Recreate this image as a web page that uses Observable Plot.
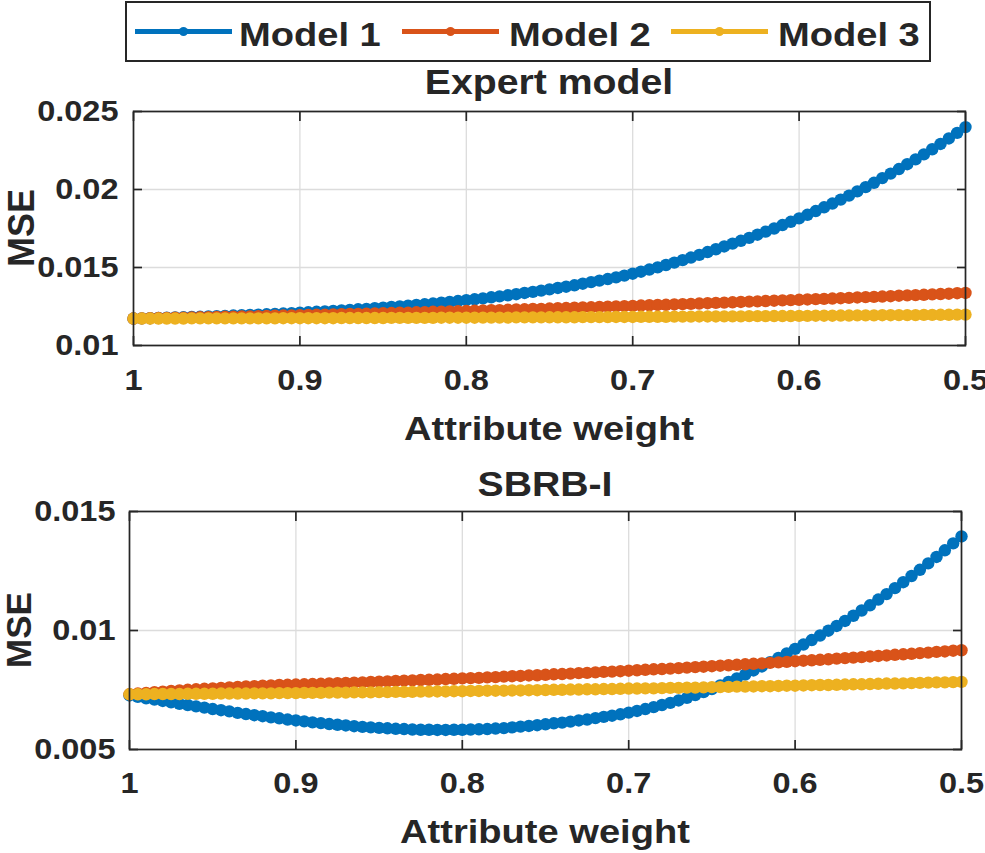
<!DOCTYPE html>
<html><head><meta charset="utf-8">
<script src="https://cdn.jsdelivr.net/npm/d3@7"></script>
<script src="https://cdn.jsdelivr.net/npm/@observablehq/plot@0.6"></script>
<style>
html,body{margin:0;padding:0;background:#fff;}
#fig{position:relative;width:985px;height:853px;overflow:hidden;font-family:"Liberation Sans",Arial,sans-serif;}
#fig > svg{position:absolute;left:0;}
</style></head><body><div id="fig"></div>
<script>
// ---------------- data ----------------
const weights = [1,0.995,0.99,0.985,0.98,0.975,0.97,0.965,0.96,0.955,
0.95,0.945,0.94,0.935,0.93,0.925,0.92,0.915,0.91,0.905,
0.9,0.895,0.89,0.885,0.88,0.875,0.87,0.865,0.86,0.855,
0.85,0.845,0.84,0.835,0.83,0.825,0.82,0.815,0.81,0.805,
0.8,0.795,0.79,0.785,0.78,0.775,0.77,0.765,0.76,0.755,
0.75,0.745,0.74,0.735,0.73,0.725,0.72,0.715,0.71,0.705,
0.7,0.695,0.69,0.685,0.68,0.675,0.67,0.665,0.66,0.655,
0.65,0.645,0.64,0.635,0.63,0.625,0.62,0.615,0.61,0.605,
0.6,0.595,0.59,0.585,0.58,0.575,0.57,0.565,0.56,0.555,
0.55,0.545,0.54,0.535,0.53,0.525,0.52,0.515,0.51,0.505,
0.5];
const models = ["Model 1", "Model 2", "Model 3"];
const colors = ["#0072BD", "#D95319", "#EDB120"];
const xTicks = [1, 0.9, 0.8, 0.7, 0.6, 0.5];
const xTickLabels = ["1", "0.9", "0.8", "0.7", "0.6", "0.5"];
const topYTicks = [0.01, 0.015, 0.02, 0.025];
const topYTickLabels = ["0.01", "0.015", "0.02", "0.025"];
const botYTicks = [0.005, 0.01, 0.015];
const botYTickLabels = ["0.005", "0.01", "0.015"];
const panelTitles = ["Expert model", "SBRB-I"];
const xLabel = "Attribute weight";
const yLabel = "MSE";

// Expert model
const topModel1 = [0.01173,0.01174,0.01175,0.01177,0.01178,0.01180,0.01181,0.01183,0.01184,0.01186,
0.01188,0.01190,0.01192,0.01194,0.01196,0.01198,0.01200,0.01202,0.01205,0.01207,
0.01210,0.01213,0.01216,0.01219,0.01222,0.01225,0.01228,0.01232,0.01235,0.01239,
0.01243,0.01247,0.01251,0.01255,0.01260,0.01264,0.01269,0.01274,0.01279,0.01285,
0.01291,0.01296,0.01302,0.01309,0.01315,0.01322,0.01329,0.01337,0.01344,0.01352,
0.01360,0.01369,0.01377,0.01386,0.01396,0.01406,0.01416,0.01426,0.01437,0.01448,
0.01460,0.01473,0.01487,0.01501,0.01516,0.01531,0.01547,0.01564,0.01581,0.01599,
0.01617,0.01635,0.01653,0.01671,0.01690,0.01710,0.01730,0.01750,0.01772,0.01793,
0.01815,0.01838,0.01862,0.01886,0.01910,0.01935,0.01961,0.01988,0.02015,0.02043,
0.02073,0.02102,0.02131,0.02162,0.02193,0.02225,0.02258,0.02292,0.02327,0.02363,
0.02400];
const topModel2 = [0.01173,0.01174,0.01175,0.01176,0.01177,0.01178,0.01179,0.01180,0.01181,0.01182,
0.01183,0.01184,0.01185,0.01186,0.01187,0.01188,0.01190,0.01191,0.01192,0.01193,
0.01194,0.01196,0.01197,0.01198,0.01199,0.01201,0.01202,0.01203,0.01204,0.01206,
0.01207,0.01208,0.01210,0.01211,0.01213,0.01214,0.01216,0.01217,0.01218,0.01220,
0.01221,0.01223,0.01224,0.01226,0.01227,0.01229,0.01231,0.01232,0.01234,0.01235,
0.01237,0.01239,0.01240,0.01242,0.01244,0.01245,0.01247,0.01249,0.01251,0.01252,
0.01254,0.01256,0.01258,0.01260,0.01261,0.01263,0.01265,0.01267,0.01269,0.01271,
0.01273,0.01275,0.01277,0.01279,0.01281,0.01283,0.01285,0.01287,0.01289,0.01291,
0.01293,0.01295,0.01297,0.01299,0.01301,0.01303,0.01305,0.01308,0.01310,0.01312,
0.01314,0.01316,0.01319,0.01321,0.01323,0.01325,0.01328,0.01330,0.01332,0.01335,
0.01337];
const topModel3 = [0.01173,0.01173,0.01173,0.01173,0.01173,0.01173,0.01173,0.01174,0.01174,0.01174,
0.01174,0.01174,0.01174,0.01174,0.01174,0.01174,0.01174,0.01174,0.01175,0.01175,
0.01175,0.01175,0.01175,0.01175,0.01175,0.01176,0.01176,0.01176,0.01176,0.01176,
0.01176,0.01177,0.01177,0.01177,0.01177,0.01177,0.01177,0.01178,0.01178,0.01178,
0.01178,0.01178,0.01179,0.01179,0.01179,0.01179,0.01180,0.01180,0.01180,0.01180,
0.01181,0.01181,0.01181,0.01181,0.01182,0.01182,0.01182,0.01182,0.01183,0.01183,
0.01183,0.01184,0.01184,0.01184,0.01184,0.01185,0.01185,0.01185,0.01186,0.01186,
0.01186,0.01187,0.01187,0.01187,0.01188,0.01188,0.01188,0.01189,0.01189,0.01189,
0.01190,0.01190,0.01191,0.01191,0.01191,0.01192,0.01192,0.01193,0.01193,0.01193,
0.01194,0.01194,0.01195,0.01195,0.01195,0.01196,0.01196,0.01197,0.01197,0.01198,
0.01198];

// SBRB-I
const botModel1 = [0.00727,0.00721,0.00715,0.00710,0.00704,0.00698,0.00692,0.00687,0.00681,0.00676,
0.00670,0.00665,0.00660,0.00654,0.00649,0.00644,0.00640,0.00635,0.00631,0.00626,
0.00622,0.00618,0.00614,0.00611,0.00607,0.00604,0.00601,0.00598,0.00595,0.00593,
0.00591,0.00589,0.00587,0.00586,0.00584,0.00583,0.00583,0.00582,0.00582,0.00583,
0.00583,0.00584,0.00585,0.00586,0.00588,0.00590,0.00593,0.00596,0.00599,0.00602,
0.00606,0.00610,0.00613,0.00617,0.00622,0.00626,0.00632,0.00637,0.00642,0.00648,
0.00655,0.00662,0.00670,0.00678,0.00687,0.00696,0.00706,0.00717,0.00729,0.00741,
0.00754,0.00769,0.00784,0.00799,0.00815,0.00832,0.00849,0.00867,0.00885,0.00904,
0.00923,0.00941,0.00960,0.00979,0.00999,0.01019,0.01040,0.01062,0.01084,0.01106,
0.01130,0.01153,0.01178,0.01203,0.01229,0.01255,0.01282,0.01309,0.01337,0.01366,
0.01395];
const botModel2 = [0.00732,0.00735,0.00738,0.00741,0.00743,0.00746,0.00748,0.00751,0.00753,0.00755,
0.00757,0.00759,0.00761,0.00763,0.00765,0.00766,0.00768,0.00769,0.00771,0.00772,
0.00773,0.00774,0.00775,0.00776,0.00778,0.00779,0.00780,0.00781,0.00782,0.00784,
0.00785,0.00786,0.00788,0.00789,0.00790,0.00792,0.00793,0.00794,0.00796,0.00797,
0.00799,0.00800,0.00801,0.00803,0.00804,0.00806,0.00808,0.00809,0.00811,0.00812,
0.00814,0.00816,0.00817,0.00819,0.00821,0.00822,0.00824,0.00826,0.00827,0.00829,
0.00831,0.00833,0.00835,0.00837,0.00838,0.00840,0.00842,0.00844,0.00846,0.00848,
0.00850,0.00852,0.00854,0.00856,0.00858,0.00860,0.00862,0.00864,0.00866,0.00868,
0.00871,0.00873,0.00875,0.00877,0.00879,0.00882,0.00884,0.00886,0.00888,0.00891,
0.00893,0.00895,0.00898,0.00900,0.00902,0.00905,0.00907,0.00910,0.00912,0.00915,
0.00917];
const botModel3 = [0.00732,0.00732,0.00732,0.00733,0.00733,0.00733,0.00733,0.00734,0.00734,0.00734,
0.00734,0.00735,0.00735,0.00735,0.00735,0.00736,0.00736,0.00736,0.00737,0.00737,
0.00737,0.00738,0.00738,0.00738,0.00739,0.00739,0.00739,0.00740,0.00740,0.00740,
0.00741,0.00741,0.00742,0.00742,0.00742,0.00743,0.00743,0.00744,0.00744,0.00745,
0.00745,0.00746,0.00746,0.00747,0.00747,0.00747,0.00748,0.00748,0.00749,0.00749,
0.00750,0.00751,0.00751,0.00752,0.00752,0.00753,0.00753,0.00754,0.00754,0.00755,
0.00756,0.00756,0.00757,0.00757,0.00758,0.00759,0.00759,0.00760,0.00760,0.00761,
0.00762,0.00762,0.00763,0.00764,0.00764,0.00765,0.00766,0.00766,0.00767,0.00768,
0.00768,0.00769,0.00770,0.00771,0.00771,0.00772,0.00773,0.00774,0.00774,0.00775,
0.00776,0.00777,0.00777,0.00778,0.00779,0.00780,0.00781,0.00782,0.00782,0.00783,
0.00784];

// ---------------- drawing ----------------
const FONT = '"Liberation Sans", Arial, sans-serif';
const INK = "#262626";
const STRETCH = 1.12;
const fig = document.getElementById("fig");

function toRows(seriesList) {
  return seriesList.flatMap((vals, i) => vals.map((v, j) => ({w: weights[j], mse: v, model: models[i]})));
}

function stretchText(root) {
  root.querySelectorAll("text").forEach(t => {
    if (t.classList.contains("nostretch")) return;
    const L = t.getComputedTextLength();
    if (L > 0) {
      t.setAttribute("textLength", (L * STRETCH).toFixed(2));
      t.setAttribute("lengthAdjust", "spacingAndGlyphs");
    }
  });
}

function panel(cfg) {
  const rows = toRows(cfg.series);
  const fmtX = d => xTickLabels[xTicks.indexOf(d)];
  const fmtY = d => cfg.yLabels[cfg.yTicks.indexOf(d)];
  const marks = [
    Plot.gridX(xTicks, {stroke: "#dcdcdc", strokeOpacity: 1, strokeWidth: 1.3}),
    Plot.gridY(cfg.yTicks, {stroke: "#dcdcdc", strokeOpacity: 1, strokeWidth: 1.3})
  ];
  models.forEach((m, i) => {
    const d = rows.filter(r => r.model === m);
    marks.push(Plot.line(d, {x: "w", y: "mse", stroke: colors[i], strokeWidth: 3}));
    marks.push(Plot.dot(d, {x: "w", y: "mse", r: 6.2, fill: colors[i], stroke: "none"}));
  });
  marks.push(Plot.frame({stroke: INK, strokeWidth: 1.7}));
  const tk = {color: INK, strokeWidth: 1.7, tickSize: 9, tickFormat: () => "", label: null};
  marks.push(Plot.axisX(xTicks, {...tk, anchor: "bottom", dy: -9}));
  marks.push(Plot.axisX(xTicks, {...tk, anchor: "top", dy: 9}));
  marks.push(Plot.axisY(cfg.yTicks, {...tk, anchor: "left", dx: 9}));
  marks.push(Plot.axisY(cfg.yTicks, {...tk, anchor: "right", dx: -9}));
  marks.push(Plot.axisX(xTicks, {anchor: "bottom", tickSize: 0, tickPadding: cfg.xPad, tickFormat: fmtX, label: null,
    color: INK, fontSize: 29, fontWeight: "bold", fontFamily: FONT}));
  marks.push(Plot.axisY(cfg.yTicks, {anchor: "left", tickSize: 0, tickPadding: cfg.yPad, tickFormat: fmtY, label: null,
    color: INK, fontSize: 29, fontWeight: "bold", fontFamily: FONT}));

  const svg = Plot.plot({
    width: 985,
    height: cfg.height,
    marginTop: cfg.mt, marginBottom: cfg.mb, marginLeft: cfg.ml, marginRight: cfg.mr,
    x: {domain: [1, 0.5]},
    y: {domain: cfg.yDomain},
    style: {fontFamily: FONT, fontSize: "29px", fontWeight: "bold", color: INK, background: "transparent", overflow: "visible"},
    marks
  });
  svg.style.top = cfg.top + "px";
  fig.appendChild(svg);
  stretchText(svg);
}

panel({series: [topModel1, topModel2, topModel3], yDomain: [0.01, 0.025], yTicks: topYTicks, yLabels: topYTickLabels,
  top: 100, height: 300, mt: 11, mb: 55, ml: 133, mr: 20, xPad: 24, yPad: 15});
panel({series: [botModel1, botModel2, botModel3], yDomain: [0.005, 0.015], yTicks: botYTicks, yLabels: botYTickLabels,
  top: 495, height: 305, mt: 16, mb: 51, ml: 129, mr: 24, xPad: 23, yPad: 14});

// overlay: legend, titles, axis labels
const ov = d3.create("svg").attr("width", 985).attr("height", 853)
  .style("top", "0px").style("pointer-events", "none")
  .attr("font-family", FONT).attr("font-weight", "bold").attr("fill", INK);
fig.appendChild(ov.node());

const lg = ov.append("g");
lg.append("rect").attr("x", 126).attr("y", 2).attr("width", 804).attr("height", 59)
  .attr("fill", "#fff").attr("stroke", INK).attr("stroke-width", 2);
const lgLineX = [135, 402, 671];
const lgTextX = [239, 509, 778];
models.forEach((m, i) => {
  lg.append("line").attr("x1", lgLineX[i]).attr("x2", lgLineX[i] + 97).attr("y1", 31.5).attr("y2", 31.5)
    .attr("stroke", colors[i]).attr("stroke-width", 5);
  lg.append("circle").attr("cx", lgLineX[i] + 48.5).attr("cy", 31.5).attr("r", 4.5).attr("fill", colors[i]);
  lg.append("text").attr("x", lgTextX[i]).attr("y", 46).attr("font-size", 34).text(m);
});

const txt = (x, y, s, size) => ov.append("text").attr("x", x).attr("y", y).attr("text-anchor", "middle").attr("font-size", size).text(s);
txt(549, 94, panelTitles[0], 35);
txt(545, 496, panelTitles[1], 35);
txt(549, 440, xLabel, 34);
txt(545, 843, xLabel, 34);
ov.append("text").attr("class", "nostretch").attr("transform", "translate(34,228) rotate(-90)")
  .attr("text-anchor", "middle").attr("font-size", 36).text(yLabel);
ov.append("text").attr("class", "nostretch").attr("transform", "translate(31,630) rotate(-90)")
  .attr("text-anchor", "middle").attr("font-size", 35).text(yLabel);
stretchText(ov.node());
</script></body></html>
